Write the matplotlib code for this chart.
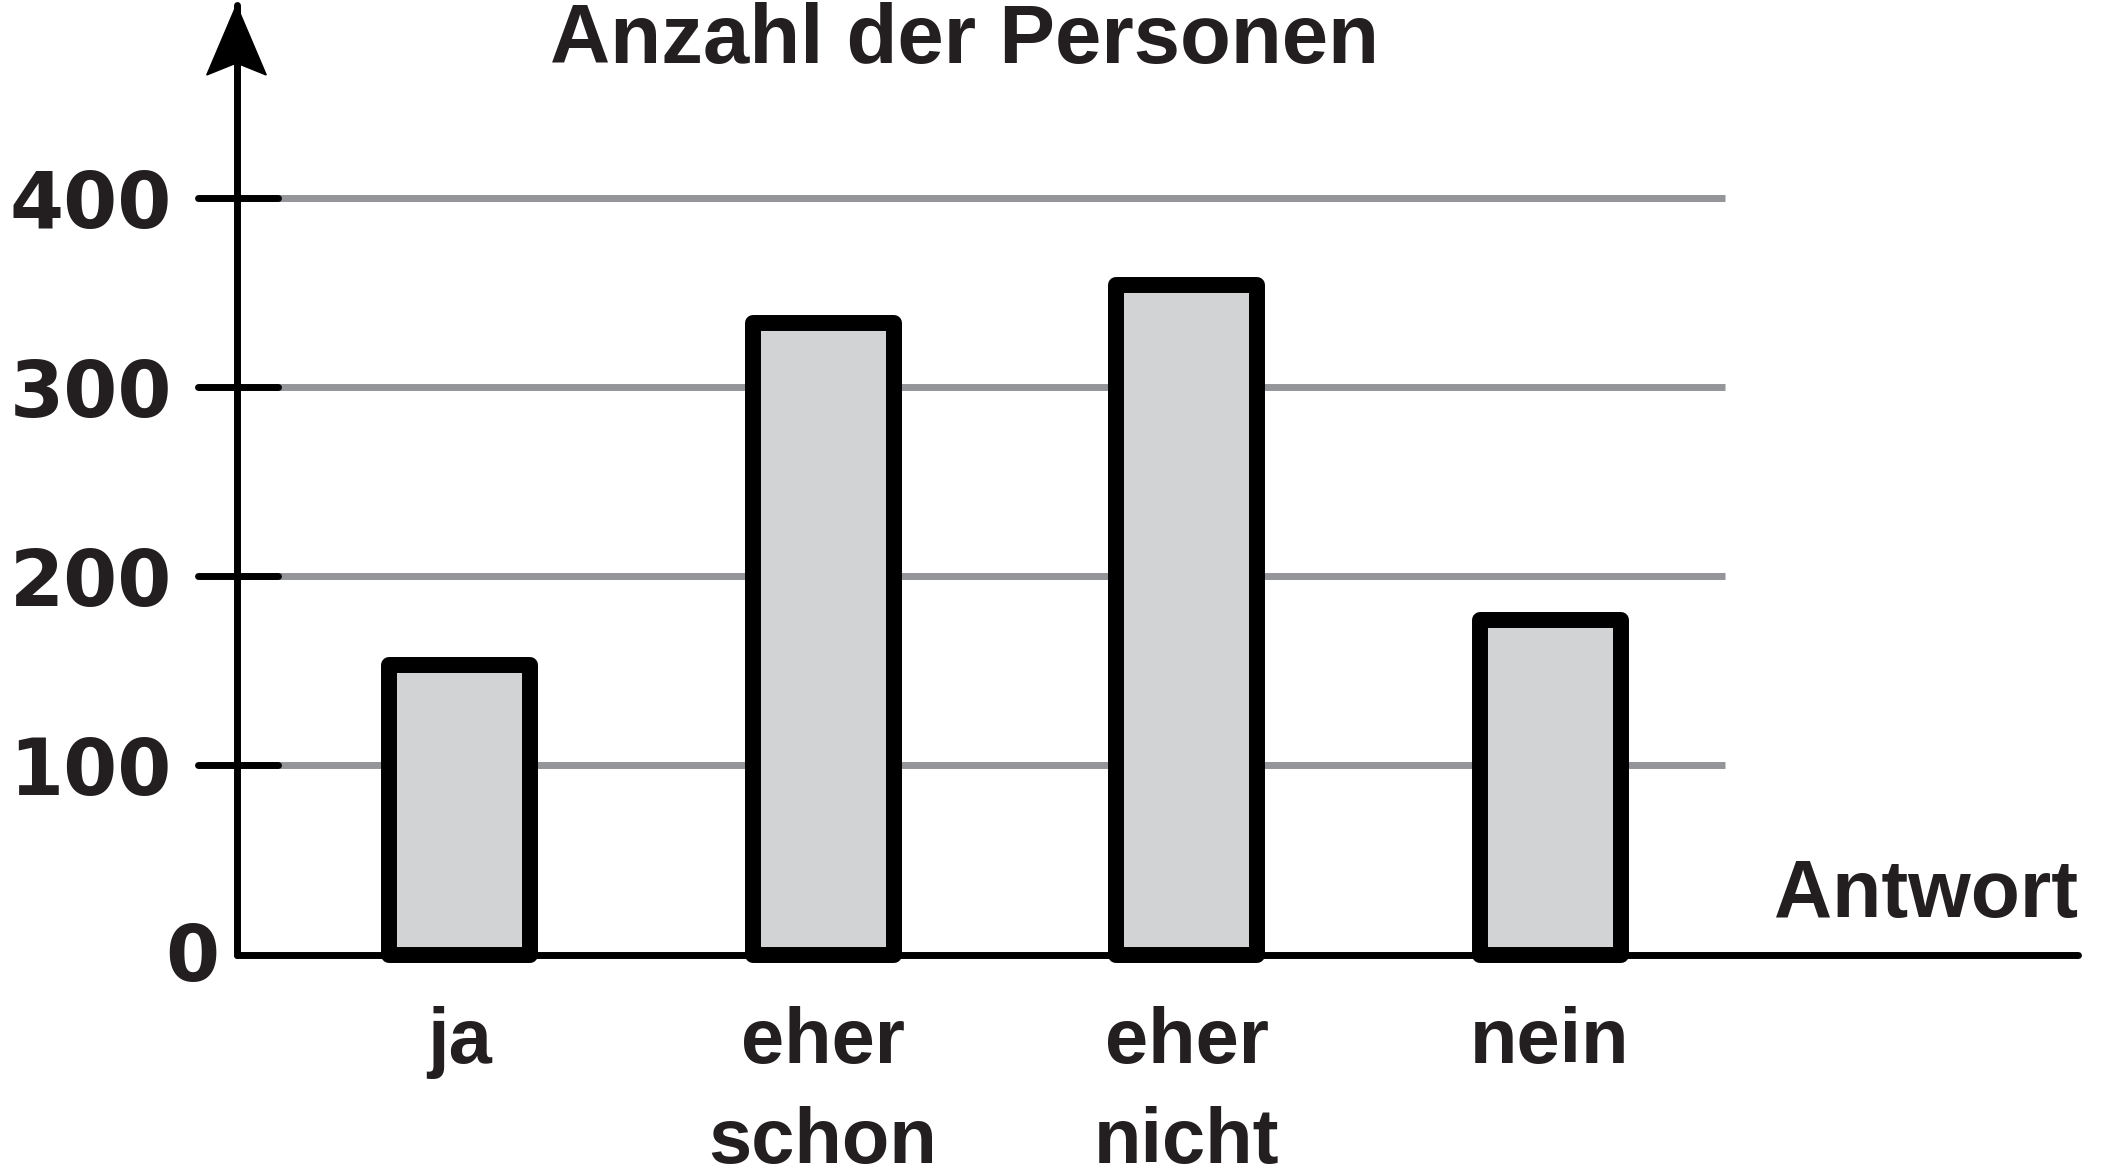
import matplotlib

matplotlib.use("Agg")
import matplotlib.pyplot as plt
from matplotlib.patches import Polygon

answers = ["ja", "eher\nschon", "eher\nnicht", "nein"]
persons = [153, 334, 354, 177]
y_ticks = [0, 100, 200, 300, 400]
y_ticklabels = ["0", "100", "200", "300", "400"]

INK = "#231f20"
BAR_FILL = "#d1d3d4"
GRID = "#939598"
TEXT_FONT = ["Liberation Sans", "DejaVu Sans"]
DIGIT_FONT = ["DejaVu Sans"]

# canvas is 2105 x 1168 px; layout below is worked out in pixels
W, H, DPI = 2105, 1168, 100
x_axis_px = 236.5      # y axis position
y_zero_px = 954.5      # x axis position
right_px = 2078
top_px = 5
px_per_100 = 189.1
bar_step_px = 363.5
first_bar_px = 459.5

fig = plt.figure(figsize=(W / DPI, H / DPI), dpi=DPI)
ax = fig.add_axes([
    x_axis_px / W,
    1 - y_zero_px / H,
    (right_px - x_axis_px) / W,
    (y_zero_px - top_px) / H,
])

px = 1 / bar_step_px   # one pixel in x data units
ax.set_xlim((x_axis_px - first_bar_px) * px, (right_px - first_bar_px) * px)
ax.set_ylim(0, (y_zero_px - top_px) / px_per_100 * 100)
x0 = ax.get_xlim()[0]

# horizontal guide lines
grid_end = (1725 - first_bar_px) * px
ax.hlines(y_ticks[1:], x0, grid_end, colors=GRID, lw=5, zorder=1)

# bars
xs = list(range(len(answers)))
bars = ax.bar(xs, persons, width=141 * px, color=BAR_FILL, edgecolor="black",
              linewidth=11.5, zorder=4, clip_on=False)
for b in bars:
    b.set_joinstyle("round")

# axes lines
for side in ("top", "right"):
    ax.spines[side].set_visible(False)
for side in ("left", "bottom"):
    ax.spines[side].set_linewidth(5)
    ax.spines[side].set_color("black")
    ax.spines[side].set_capstyle("round")
    ax.spines[side].set_zorder(3)

# tick marks with rounded ends
for yv in y_ticks[1:]:
    ax.plot([x0 - 38.5 * px, x0 + 41.5 * px], [yv, yv], color="black", lw=5,
            solid_capstyle="round", zorder=5, clip_on=False)

# arrow head on top of the y axis
ytop = ax.get_ylim()[1]
y_base = (y_zero_px - 75) / px_per_100 * 100
y_notch = (y_zero_px - 63) / px_per_100 * 100
half = 29.75 * px
ax.add_patch(Polygon([(x0, ytop), (x0 + half, y_base), (x0, y_notch),
                      (x0 - half, y_base)], closed=True, color="black",
                     zorder=6, clip_on=False))

# y tick labels
ax.set_xticks([])
ax.set_yticks(y_ticks[1:])
ax.set_yticklabels(y_ticklabels[1:], fontfamily=DIGIT_FONT,
                   fontweight="bold", fontsize=56, color=INK)
ax.tick_params(axis="y", length=0, pad=46.4)
ax.annotate(y_ticklabels[0], xy=(x0, 0), xytext=(-32, -3.5),
            textcoords="offset points", ha="center", va="center",
            fontfamily=DIGIT_FONT, fontweight="bold", fontsize=56, color=INK,
            annotation_clip=False)

# category labels under the bars, one text per line
for xv, lab in zip(xs, answers):
    for k, line in enumerate(lab.split("\n")):
        ax.annotate(line, xy=(xv, 0), xytext=(0, -78 - 72 * k),
                    textcoords="offset points", ha="center", va="baseline",
                    fontfamily=TEXT_FONT, fontweight="bold", fontsize=56,
                    color=INK, annotation_clip=False)

ax.annotate("Antwort", xy=(1, 0), xycoords="axes fraction", xytext=(0, 27),
            textcoords="offset points", ha="right", va="baseline",
            fontfamily=TEXT_FONT, fontweight="bold", fontsize=58, color=INK)

fig.text(550 / W, 1 - 63 / H, "Anzahl der Personen", ha="left",
         va="baseline", fontfamily=TEXT_FONT, fontweight="bold", fontsize=60,
         color=INK)

fig.savefig("out.png", dpi=DPI)
